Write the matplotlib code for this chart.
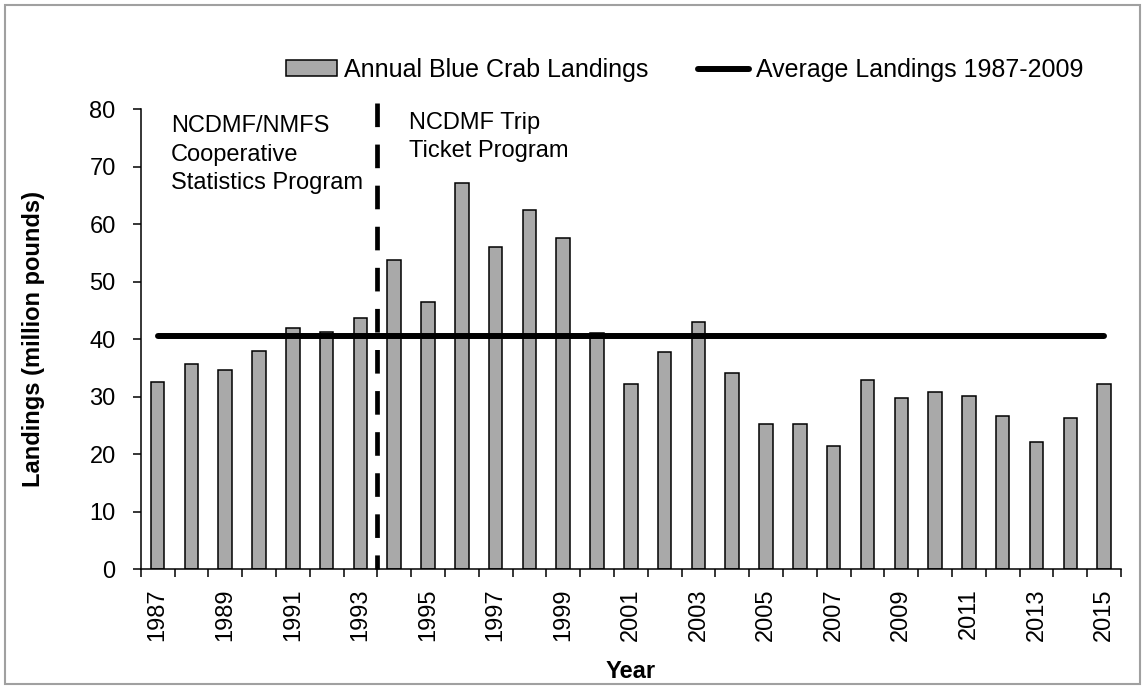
import numpy as np
import matplotlib
matplotlib.use("Agg")
import matplotlib.pyplot as plt
from matplotlib.patches import Rectangle

# Annual blue crab landings (million pounds)
years = list(range(1987, 2016))
landings = [32.5, 35.6, 34.7, 38.0, 41.9, 41.2, 43.6, 53.7, 46.4, 67.2,
            56.1, 62.4, 57.5, 41.0, 32.2, 37.7, 43.0, 34.2, 25.2, 25.2,
            21.4, 32.9, 29.7, 30.8, 30.1, 26.6, 22.1, 26.3, 32.2]
average_landings = 40.5
program_change_after = 1993   # dashed line sits between 1993 and 1994

bar_label = "Annual Blue Crab Landings"
avg_label = "Average Landings 1987-2009"
left_note = ["NCDMF/NMFS", "Cooperative", "Statistics Program"]
right_note = ["NCDMF Trip", "Ticket Program"]

plt.rcParams['font.family'] = ['Liberation Sans', 'DejaVu Sans']

W, H = 1145, 689
fig = plt.figure(figsize=(W / 100, H / 100), dpi=100)
ax = fig.add_axes([140.7 / W, 1 - 569.3 / H, (1121 - 140.7) / W, (569.3 - 109) / H])

x = np.arange(len(years))
bars = ax.bar(x, landings, width=0.4, color='#A9A9A9', edgecolor='black',
              linewidth=1.1, zorder=2, label=bar_label)
avg, = ax.plot([x[0], x[-1]], [average_landings, average_landings], color='black',
               lw=4.3, solid_capstyle='round', zorder=3, label=avg_label)

# dashed separator between the two data programs
xs = years.index(program_change_after) + 0.5
ax.plot([xs, xs], [81, 0], color='black', lw=3.4, dashes=(5.0, 3.7),
        clip_on=False, zorder=4)

ax.set_xlim(-0.5, len(years) - 0.5)
ax.set_ylim(0, 80)
ax.set_yticks(np.arange(0, 81, 10))

ax.set_xticks(x)
ax.set_xticklabels([str(y) if i % 2 == 0 else '' for i, y in enumerate(years)],
                   rotation=90, fontsize=17)
ax.set_xticks(np.arange(-0.5, len(years), 1), minor=True)
ax.tick_params(axis='x', which='major', length=0, pad=13.5)
ax.tick_params(axis='x', which='minor', direction='out', length=6, width=1.1)
ax.tick_params(axis='y', direction='out', length=6, width=1.1, pad=12, labelsize=17)

for s in ['top', 'right']:
    ax.spines[s].set_visible(False)
for s in ['left', 'bottom']:
    ax.spines[s].set_linewidth(1.1)

# program notes
for i, t in enumerate(left_note):
    fig.text(171 / W, 1 - (132.5 + 28 * i) / H, t, fontsize=17, va='baseline', ha='left')
for i, t in enumerate(right_note):
    fig.text(408.7 / W, 1 - (128.5 + 28 * i) / H, t, fontsize=17, va='baseline', ha='left')

fig.text(33.4 / W, 1 - 339 / H, "Landings (million pounds)", rotation=90,
         ha='center', va='center', fontsize=17, fontweight='bold')
fig.text(631 / W, 1 - 678.3 / H, "Year", ha='center', va='baseline',
         fontsize=17, fontweight='bold')

fig.legend(handles=[bars, avg], loc='center left', bbox_to_anchor=(273.6 / W, 1 - 70 / H),
           ncol=2, frameon=False, fontsize=18, borderpad=0, handlelength=2.05,
           handleheight=0.6, handletextpad=0.26, columnspacing=2.0)

# thin grey frame around the whole chart
fig.patches.append(Rectangle((5 / W, 5 / H), 1 - 10 / W, 1 - 10 / H,
                             transform=fig.transFigure, fill=False,
                             edgecolor='#A0A0A0', linewidth=1.5))

fig.savefig('out.png', dpi=100)
